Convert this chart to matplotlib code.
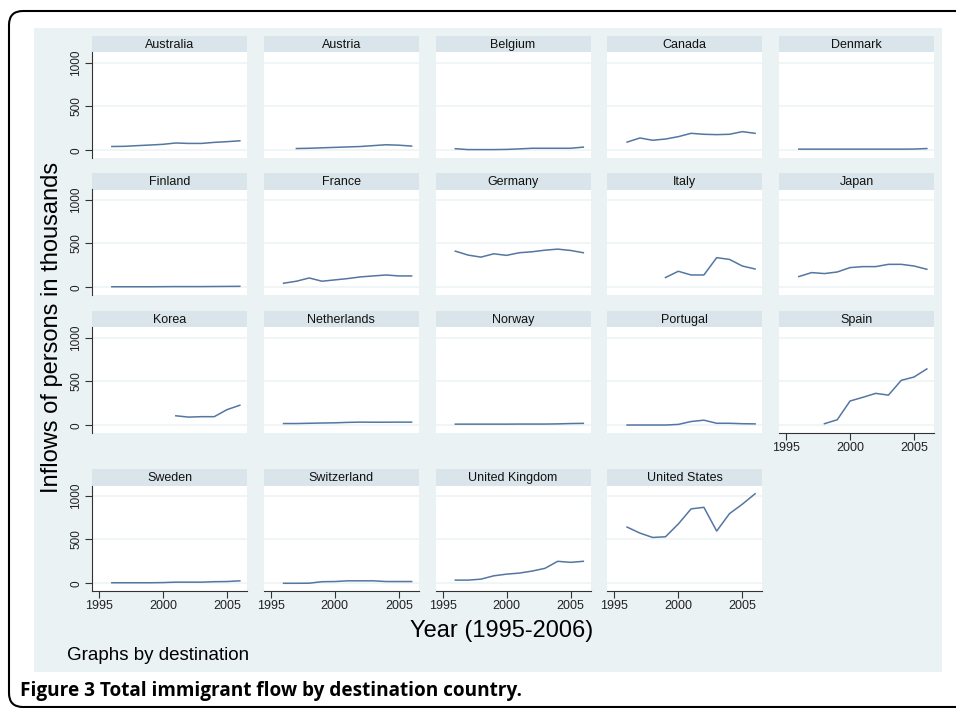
import matplotlib
matplotlib.use("Agg")
import matplotlib.pyplot as plt
import numpy as np
from matplotlib.patches import FancyBboxPatch
from matplotlib.transforms import IdentityTransform

plt.rcParams['font.family'] = ['Liberation Sans', 'DejaVu Sans']

nan = np.nan
years = [1996, 1997, 1998, 1999, 2000, 2001, 2002, 2003, 2004, 2005, 2006]

# inflows, thousands of persons
australia = [45, 47, 55, 62, 70, 85, 80, 80, 92, 100, 110]
austria = [nan, 22, 25, 30, 35, 40, 45, 55, 65, 60, 50]
belgium = [20, 10, 10, 10, 12, 18, 25, 25, 25, 25, 38]
canada = [95, 142, 116, 130, 157, 195, 184, 180, 184, 214, 195]
denmark = [15, 15, 15, 15, 15, 15, 15, 15, 15, 16, 22]
finland = [8, 8, 8, 8, 9, 10, 10, 10, 11, 12, 13]
france = [48, 71, 108, 71, 86, 101, 120, 131, 142, 131, 131]
germany = [413, 368, 345, 383, 365, 395, 406, 424, 436, 421, 395]
italy = [nan, nan, nan, 113, 184, 142, 142, 339, 319, 244, 210]
japan = [124, 169, 158, 176, 226, 237, 237, 263, 263, 244, 207]
korea = [nan, nan, nan, nan, nan, 110, 95, 100, 100, 180, 230]
netherlands = [22, 22, 25, 28, 30, 35, 38, 37, 37, 38, 38]
norway = [15, 15, 15, 15, 15, 16, 16, 16, 18, 22, 24]
portugal = [5, 5, 5, 5, 12, 45, 60, 25, 25, 20, 18]
spain = [nan, nan, 20, 65, 278, 320, 365, 345, 513, 551, 643]
sweden = [8, 8, 8, 8, 10, 15, 15, 15, 20, 22, 30]
switzerland = [2, 2, 3, 20, 22, 30, 30, 30, 22, 22, 22]
uk = [38, 38, 49, 87, 106, 118, 141, 172, 252, 240, 252]
us = [641, 573, 523, 531, 676, 848, 866, 596, 794, 901, 1020]

countries = ["Australia", "Austria", "Belgium", "Canada", "Denmark",
             "Finland", "France", "Germany", "Italy", "Japan",
             "Korea", "Netherlands", "Norway", "Portugal", "Spain",
             "Sweden", "Switzerland", "United Kingdom", "United States"]
series = [australia, austria, belgium, canada, denmark,
          finland, france, germany, italy, japan,
          korea, netherlands, norway, portugal, spain,
          sweden, switzerland, uk, us]

y_ticks = [0, 500, 1000]
x_ticks = [1995, 2000, 2005]

BG = '#EAF2F3'
HEAD = '#D9E5EA'
LINE = '#5476A0'
GRID = '#EEF3F5'
AXC = '#333333'

W, H = 956, 708
fig = plt.figure(figsize=(W / 100, H / 100), dpi=100)
fig.patch.set_facecolor('white')


def box(x0, y0, x1, y1):
    # pixel box (top-left origin) -> figure fraction rect
    return [x0 / W, 1 - y1 / H, (x1 - x0) / W, (y1 - y0) / H]


# outer rounded frame (runs off the right edge)
frame = FancyBboxPatch((9, H - 707), 1200, 696,
                       boxstyle="round,pad=0,rounding_size=14",
                       transform=IdentityTransform(), fill=False,
                       edgecolor='black', linewidth=1.5)
fig.patches.append(frame)

# graph region background
bg = fig.add_axes(box(34, 28, 942, 672))
bg.set_facecolor(BG)
bg.set_xticks([])
bg.set_yticks([])
for s in bg.spines.values():
    s.set_visible(False)

head_tops = [36, 173, 311, 469]
head_h = 16.5
plot_h = 105
col_w = 155

for i, (name, vals) in enumerate(zip(countries, series)):
    r, c = divmod(i, 5)
    x0 = 92 + 171.75 * c
    top = head_tops[r]

    hax = fig.add_axes(box(x0, top, x0 + col_w, top + head_h))
    hax.set_facecolor(HEAD)
    hax.set_xticks([])
    hax.set_yticks([])
    for s in hax.spines.values():
        s.set_visible(False)
    hax.text(0.5, 0.45, name, ha='center', va='center', fontsize=9,
             transform=hax.transAxes, color='#111111')

    ax = fig.add_axes(box(x0, top + head_h, x0 + col_w, top + head_h + plot_h))
    ax.set_facecolor('white')
    ax.plot(years, vals, color=LINE, linewidth=1.1)
    ax.set_xlim(1994.45, 2006.56)
    ax.set_ylim(-80, 1114)
    ax.set_yticks(y_ticks)
    ax.set_xticks(x_ticks)
    for yv in y_ticks:
        ax.axhline(yv, color=GRID, linewidth=1.2, zorder=0)
    for s in ax.spines.values():
        s.set_visible(False)

    left_col = (c == 0)
    bottom = (i + 5 >= len(countries))
    ax.tick_params(axis='y', left=left_col, labelleft=left_col,
                   length=5, width=0.8, color=AXC, pad=2,
                   labelsize=8.5, labelcolor='#222222')
    ax.tick_params(axis='x', bottom=bottom, labelbottom=bottom,
                   length=5, width=0.8, color=AXC, pad=2,
                   labelsize=9, labelcolor='#222222')
    if left_col:
        ax.spines['left'].set_visible(True)
        ax.spines['left'].set_color(AXC)
        ax.spines['left'].set_linewidth(0.8)
        for lab in ax.get_yticklabels():
            lab.set_rotation(90)
            lab.set_va('center')
    if bottom:
        ax.spines['bottom'].set_visible(True)
        ax.spines['bottom'].set_color(AXC)
        ax.spines['bottom'].set_linewidth(0.8)

fig.text(52 / W, 1 - 327 / H, "Inflows of persons in thousands",
         rotation=90, ha='center', va='center', fontsize=17)
fig.text(502 / W, 1 - 631 / H, "Year (1995-2006)",
         ha='center', va='center', fontsize=17)
fig.text(67 / W, 1 - 656 / H, "Graphs by destination",
         ha='left', va='center', fontsize=13.5)
fig.text(20 / W, 1 - 691 / H, "Figure 3 Total immigrant flow by destination country.",
         ha='left', va='center', fontsize=13.7, fontweight='bold',
         family=['Open Sans', 'DejaVu Sans'])

fig.savefig("out.png", dpi=100, facecolor='white')
